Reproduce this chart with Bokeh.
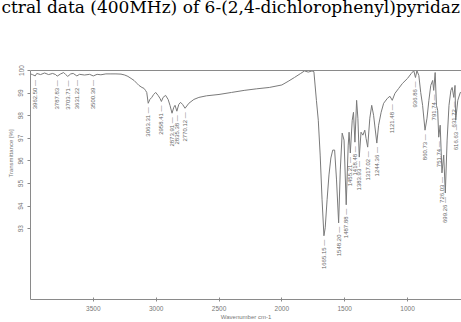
import numpy as np
from bokeh.plotting import figure
from bokeh.models import Range1d, FixedTicker, LinearAxis, Title
from bokeh.core.properties import value
from bokeh.embed import file_html
from bokeh.resources import INLINE

# ---- data ----
wavenumber = [4000, 3985, 3962.5, 3950, 3920, 3888, 3856, 3824, 3800, 3787.83, 3760, 3736, 3720,
              3703.71, 3680, 3660, 3631.22, 3610, 3570, 3530, 3500.39, 3470, 3440, 3400, 3360, 3320,
              3280, 3250, 3225, 3200, 3176, 3153, 3137, 3113, 3097, 3085, 3075, 3063.31, 3050, 3035,
              3020, 3004, 2985, 2970, 2958.41, 2945, 2925, 2905, 2890, 2873.91, 2860, 2850, 2835.38,
              2820, 2806, 2790, 2770.12, 2740, 2700, 2660, 2600, 2500, 2400, 2300, 2200, 2100, 2000,
              1950, 1900, 1850, 1820, 1790, 1760, 1745, 1725, 1710, 1695, 1680, 1665.15, 1655, 1640,
              1625, 1610, 1595, 1580, 1565, 1548.20, 1535, 1520, 1505, 1487.88, 1472, 1465, 1455.21,
              1440, 1430, 1418.48, 1405, 1395, 1383.93, 1370, 1355, 1340, 1330, 1317.02, 1300, 1285,
              1270, 1244.36, 1230, 1210, 1190, 1160, 1140, 1121.48, 1100, 1070, 1040, 1000, 970, 950,
              936.86, 925, 910, 895, 880, 860.73, 845, 830, 815, 800, 791.74, 780, 770, 760, 751.74,
              740, 726.03, 712, 699.26, 685, 670, 655, 645, 631.72, 622, 616.63, 600, 580, 560]
transmittance = [99.85, 99.82, 99.76, 99.87, 99.82, 99.89, 99.82, 99.87, 99.82, 99.75, 99.85, 99.91, 99.82,
                 99.74, 99.85, 99.87, 99.76, 99.83, 99.80, 99.83, 99.76, 99.83, 99.81, 99.85, 99.85, 99.85,
                 99.84, 99.80, 99.74, 99.65, 99.56, 99.43, 99.34, 99.25, 99.21, 99.12, 99.03, 98.55, 98.72, 98.81,
                 98.94, 99.03, 98.90, 98.77, 98.63, 98.81, 98.90, 98.72, 98.46, 98.11, 98.37, 98.46, 98.20,
                 98.50, 98.59, 98.50, 98.33, 98.55, 98.72, 98.81, 98.88, 98.94, 99.03, 99.12, 99.19, 99.25, 99.36,
                 99.52, 99.69, 99.87, 99.98, 99.93, 99.98, 99.95, 98.68, 97.80, 96.26, 94.28, 92.69, 93.04, 94.28,
                 95.38, 96.13, 96.48, 96.48, 95.16, 93.26, 95.60, 97.23, 96.92, 94.06, 96.70, 97.27, 96.35,
                 97.80, 98.15, 96.83, 98.68, 97.89, 96.17, 97.27, 97.14, 97.36, 97.00, 96.61, 97.89, 98.46,
                 98.02, 96.79, 97.58, 98.15, 98.55, 98.77, 98.86, 98.68, 98.99, 99.21, 99.43, 99.65, 99.87, 99.99,
                 99.69, 99.99, 99.78, 99.03, 98.46, 97.36, 97.89, 98.68, 99.34, 99.56, 99.12, 99.91, 98.46, 98.24, 97.05,
                 97.58, 95.47, 96.26, 94.58, 96.92, 98.46, 99.12, 99.25, 98.81, 99.34, 97.80, 98.68, 99.03, 99.00]
peak_wavenumbers = [3962.50, 3787.83, 3703.71, 3631.22, 3500.39, 3063.31, 2958.41, 2873.91, 2835.38,
                    2770.12, 1665.15, 1548.20, 1487.88, 1455.21, 1418.48, 1383.93, 1317.02, 1244.36,
                    1121.48, 936.86, 860.73, 791.74, 751.74, 726.03, 699.26, 631.72, 616.63]
x_ticks = [3500, 3000, 2500, 2000, 1500, 1000]
y_ticks = [93, 94, 95, 96, 97, 98, 99, 100]
x_start, x_end = 4000, 570.5
title_text = "ctral data (400MHz) of 6-(2,4-dichlorophenyl)pyridaz"
x_label = "Wavenumber cm-1"
y_label = "Transmittance [%]"

wn = np.array(wavenumber, dtype=float)
tr = np.array(transmittance, dtype=float)
pk = np.array(peak_wavenumbers, dtype=float)
pk_t = np.interp(pk, wn[::-1], tr[::-1])
pk_text = [f"{w:.2f} \u2014" for w in peak_wavenumbers]

GRAY = "#8a8a8a"
TXT = "#777777"

p = figure(width=461, height=322, output_backend="svg", toolbar_location=None,
           x_range=Range1d(x_start, x_end), y_range=Range1d(89.87, 100.0),
           min_border_left=30, min_border_right=0, min_border_top=70, min_border_bottom=22)
p.outline_line_color = None
p.grid.visible = False
p.background_fill_color = "white"
p.border_fill_color = "white"

p.line(wn, tr, line_color="#7a7a7a", line_width=1)
p.text(x=pk, y=pk_t, text=pk_text, angle=np.pi / 2, text_align="right", text_baseline="middle",
       y_offset=4, text_font_size="6px", text_color="#666666", text_font=value("Liberation Sans"))

xa = p.xaxis[0]
xa.ticker = FixedTicker(ticks=x_ticks)
xa.major_tick_in = 2
xa.major_tick_out = 2
xa.minor_tick_line_color = None
xa.axis_line_color = GRAY
xa.major_tick_line_color = GRAY
xa.major_label_text_font_size = "6.5px"
xa.major_label_text_color = TXT
xa.major_label_text_font = "Liberation Sans"
xa.major_label_standoff = 4
xa.axis_label = x_label
xa.axis_label_text_font_size = "6px"
xa.axis_label_text_font = "Liberation Sans"
xa.axis_label_text_font_style = "normal"
xa.axis_label_text_color = TXT
xa.axis_label_standoff = 0

ya = p.yaxis[0]
ya.ticker = FixedTicker(ticks=y_ticks)
ya.major_tick_in = 0
ya.major_tick_out = 3
ya.minor_tick_line_color = None
ya.axis_line_color = GRAY
ya.major_tick_line_color = GRAY
ya.major_label_text_font_size = "6.5px"
ya.major_label_text_color = TXT
ya.major_label_text_font = "Liberation Sans"
ya.major_label_orientation = "vertical"
ya.major_label_standoff = 4

# top frame line; a single white tick at the range start only reserves room above it
top = LinearAxis(ticker=FixedTicker(ticks=[x_start]), axis_line_color=GRAY, major_tick_line_color="white",
                 minor_tick_line_color=None, major_tick_in=0, major_tick_out=58, major_label_standoff=0,
                 major_label_overrides={x_start: ""})
p.add_layout(top, "above")

p.title.text = title_text
p.title.text_font = "DejaVu Serif"
p.title.text_font_size = "17px"
p.title.text_font_style = "normal"
p.title.text_color = "black"
p.title.align = "left"
p.title.offset = -29
p.title.standoff = -12
p.title.vertical_align = "top"

p.add_layout(Title(text=y_label, align="left", offset=122, standoff=4, text_font_size="6px",
                   text_font="Liberation Sans", text_font_style="normal", text_color=TXT,
                   vertical_align="bottom"), "left")

open("out.html", "w").write(file_html(p, INLINE))
